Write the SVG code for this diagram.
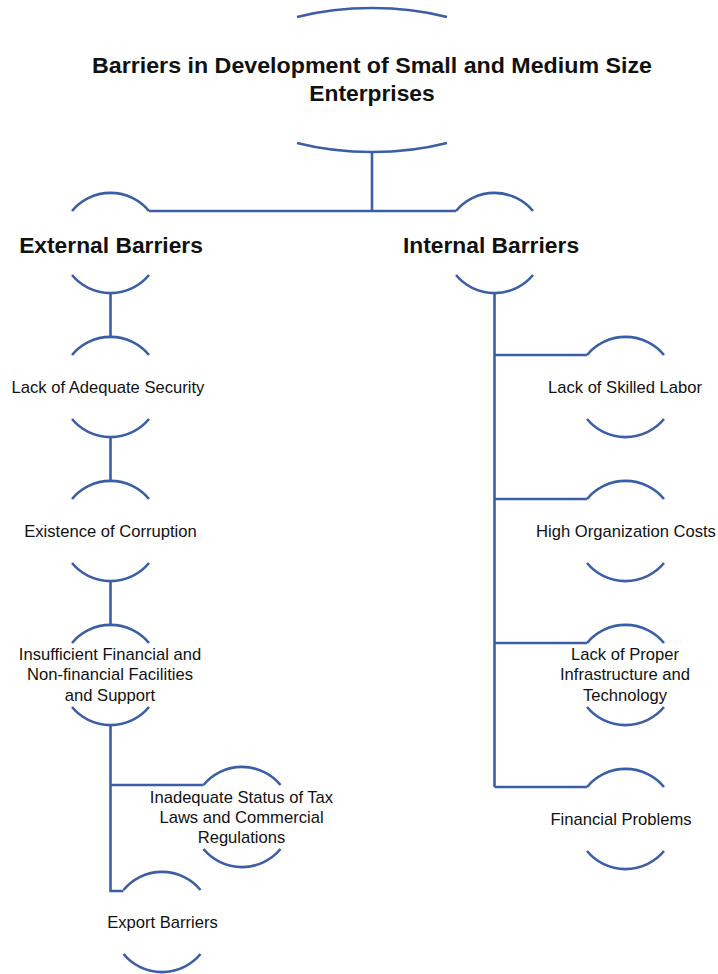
<svg xmlns="http://www.w3.org/2000/svg" width="718" height="974" viewBox="0 0 718 974">
<style>
.arc{fill:none;stroke:#3C5EA6;stroke-width:2.6}
.ln{fill:none;stroke:#3C5EA6;stroke-width:2.6}
text{font-family:"Liberation Sans",Arial,sans-serif;fill:#111;text-anchor:middle}
.t{font-size:16.6px}
.b{font-size:22.8px;font-weight:bold}
</style>
<g id="connectors">
<path class="ln" d="M372,152 V211 M149,211 H456"/>
<path class="ln" d="M110.5,293 V337 M110.5,437 V481 M110.5,581 V625 M110.5,725 V891 H123.5 M110.5,785 H203.5"/>
<path class="ln" d="M494.5,293 V787 M494.5,355 H587 M494.5,499 H587 M494.5,643 H587 M494.5,787 H587"/>
</g>
<g id="root">
<path class="arc" d="M297,17 A155,72 0 0 1 447,17 M297,143 A155,72 0 0 0 447,143"/>
<text class="b" x="372" y="73" textLength="560" lengthAdjust="spacingAndGlyphs">Barriers in Development of Small and Medium Size</text>
<text class="b" x="372" y="101">Enterprises</text>
</g>
<g id="external">
<path class="arc" d="M72,211 A50,50 0 0 1 149,211 M72,275 A50,50 0 0 0 149,275"/>
<text class="b" x="111" y="253">External Barriers</text>
</g>
<g id="internal">
<path class="arc" d="M456,211 A50,50 0 0 1 533,211 M456,275 A50,50 0 0 0 533,275"/>
<text class="b" x="491" y="253">Internal Barriers</text>
</g>
<g id="security">
<path class="arc" d="M72,355 A50,50 0 0 1 149,355 M72,419 A50,50 0 0 0 149,419"/>
<text class="t" x="108" y="393">Lack of Adequate Security</text>
</g>
<g id="corruption">
<path class="arc" d="M72,499 A50,50 0 0 1 149,499 M72,563 A50,50 0 0 0 149,563"/>
<text class="t" x="110.5" y="537">Existence of Corruption</text>
</g>
<g id="insufficient">
<path class="arc" d="M72,643 A50,50 0 0 1 149,643 M72,707 A50,50 0 0 0 149,707"/>
<text class="t" x="110" y="660">Insufficient Financial and</text>
<text class="t" x="110" y="680">Non-financial Facilities</text>
<text class="t" x="110" y="701">and Support</text>
</g>
<g id="tax">
<path class="arc" d="M203.5,785 A50,50 0 0 1 280.5,785 M203.5,849 A50,50 0 0 0 280.5,849"/>
<text class="t" x="241.5" y="803">Inadequate Status of Tax</text>
<text class="t" x="241.5" y="823">Laws and Commercial</text>
<text class="t" x="241.5" y="843">Regulations</text>
</g>
<g id="export">
<path class="arc" d="M123.5,890 A50,50 0 0 1 200.5,890" stroke-width="4.2"/>
<path class="arc" d="M123.5,954 A50,50 0 0 0 200.5,954"/>
<text class="t" x="162.5" y="928">Export Barriers</text>
</g>
<g id="skilled">
<path class="arc" d="M587,355 A50,50 0 0 1 664,355 M587,419 A50,50 0 0 0 664,419"/>
<text class="t" x="625" y="393">Lack of Skilled Labor</text>
</g>
<g id="costs">
<path class="arc" d="M587,499 A50,50 0 0 1 664,499 M587,563 A50,50 0 0 0 664,563"/>
<text class="t" x="626" y="537">High Organization Costs</text>
</g>
<g id="infrastructure">
<path class="arc" d="M587,643 A50,50 0 0 1 664,643 M587,707 A50,50 0 0 0 664,707"/>
<text class="t" x="625" y="660">Lack of Proper</text>
<text class="t" x="625" y="680">Infrastructure and</text>
<text class="t" x="625" y="701">Technology</text>
</g>
<g id="financial">
<path class="arc" d="M587,787 A50,50 0 0 1 664,787 M587,851 A50,50 0 0 0 664,851"/>
<text class="t" x="621" y="825">Financial Problems</text>
</g>
</svg>
